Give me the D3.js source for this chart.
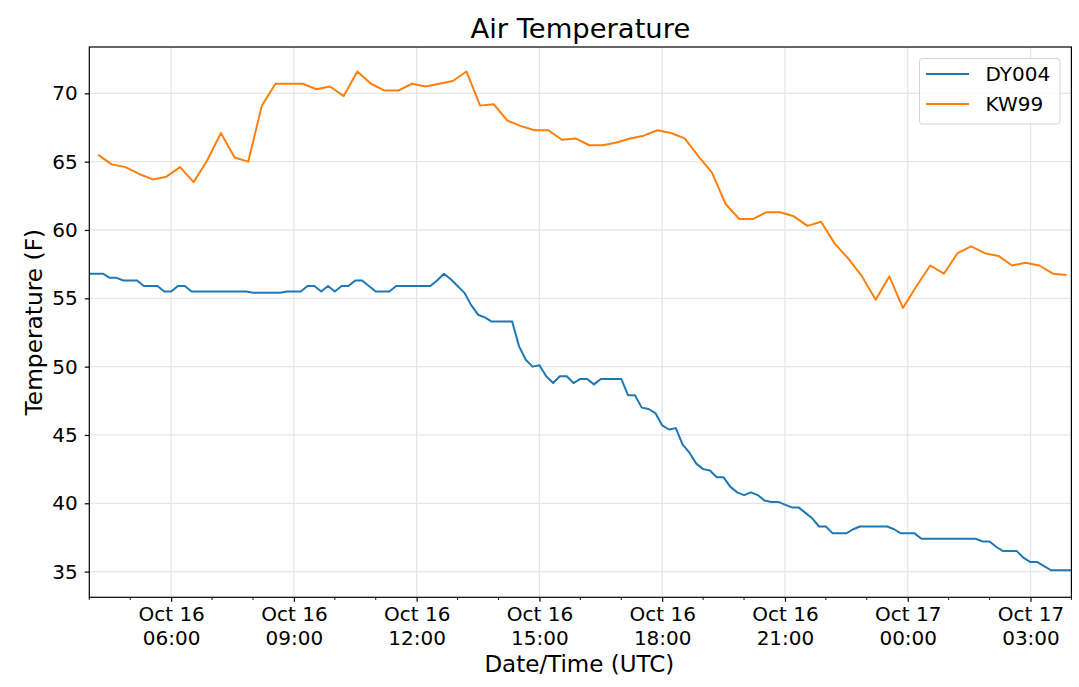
<!DOCTYPE html>
<html>
<head>
<meta charset="utf-8">
<script src="https://cdn.jsdelivr.net/npm/d3@7"></script>
<style>
  body { margin: 0; background: #fff; }
  text { font-family: "DejaVu Sans", sans-serif; fill: #000; }
</style>
</head>
<body>
<div id="chart"></div>
<script>
// station series
var seriesNames = ["DY004", "KW99"];
var seriesColors = ["#1f77b4", "#ff7f0e"];

// DY004: every 10 minutes from Oct 16 04:00 UTC
var dyStart = "2019-10-16T04:00:00Z";
var dyStepMin = 10;
var dyTemps = [
  56.8, 56.8, 56.8, 56.5, 56.5, 56.3, 56.3, 56.3, 55.9, 55.9,
  55.9, 55.5, 55.5, 55.9, 55.9, 55.5, 55.5, 55.5, 55.5, 55.5,
  55.5, 55.5, 55.5, 55.5, 55.4, 55.4, 55.4, 55.4, 55.4, 55.5,
  55.5, 55.5, 55.9, 55.9, 55.5, 55.9, 55.5, 55.9, 55.9, 56.3,
  56.3, 55.9, 55.5, 55.5, 55.5, 55.9, 55.9, 55.9, 55.9, 55.9,
  55.9, 56.3, 56.8, 56.4, 55.9, 55.4, 54.5, 53.8, 53.6, 53.3,
  53.3, 53.3, 53.3, 51.5, 50.5, 50.0, 50.1, 49.3, 48.8, 49.3,
  49.3, 48.8, 49.1, 49.1, 48.7, 49.1, 49.1, 49.1, 49.1, 47.9,
  47.9, 47.0, 46.9, 46.6, 45.7, 45.4, 45.5, 44.3, 43.7, 42.9,
  42.5, 42.4, 41.9, 41.9, 41.2, 40.8, 40.6, 40.8, 40.6, 40.2,
  40.1, 40.1, 39.9, 39.7, 39.7, 39.3, 38.9, 38.3, 38.3, 37.8,
  37.8, 37.8, 38.1, 38.3, 38.3, 38.3, 38.3, 38.3, 38.1, 37.8,
  37.8, 37.8, 37.4, 37.4, 37.4, 37.4, 37.4, 37.4, 37.4, 37.4,
  37.4, 37.2, 37.2, 36.8, 36.5, 36.5, 36.5, 36.0, 35.7, 35.7,
  35.4, 35.1, 35.1, 35.1, 35.1
];

// KW99: every 20 minutes from Oct 16 04:13 UTC
var kwStart = "2019-10-16T04:13:00Z";
var kwStepMin = 20;
var kwTemps = [
  65.5, 64.8, 64.6, 64.1, 63.7, 63.9, 64.6, 63.5, 65.1, 67.1,
  65.3, 65.0, 69.1, 70.7, 70.7, 70.7, 70.3, 70.5, 69.8, 71.6,
  70.7, 70.2, 70.2, 70.7, 70.5, 70.7, 70.9, 71.6, 69.1, 69.2,
  68.0, 67.6, 67.3, 67.3, 66.6, 66.7, 66.2, 66.2, 66.4, 66.7,
  66.9, 67.3, 67.1, 66.7, 65.4, 64.2, 61.9, 60.8, 60.8, 61.3,
  61.3, 61.0, 60.3, 60.6, 59.0, 57.9, 56.6, 54.9, 56.6, 54.3,
  55.9, 57.4, 56.8, 58.3, 58.8, 58.3, 58.1, 57.4, 57.6, 57.4,
  56.8, 56.7
];

var xStart = "2019-10-16T04:00:00Z";
var xEnd = "2019-10-17T04:00:00Z";
var yTicks = [35, 40, 45, 50, 55, 60, 65, 70];
var yDomain = [33.12, 73.39];

var W = 1079, H = 687;
var margin = {top: 47, right: 7.6, bottom: 89.7, left: 89.3};
var w = W - margin.left - margin.right,
    h = H - margin.top - margin.bottom;

function toPoints(start, step, temps) {
  var t0 = new Date(start);
  return temps.map(function(v, i) {
    return {t: d3.utcMinute.offset(t0, i * step), v: v};
  });
}

var series = [
  {name: seriesNames[0], color: seriesColors[0], pts: toPoints(dyStart, dyStepMin, dyTemps)},
  {name: seriesNames[1], color: seriesColors[1], pts: toPoints(kwStart, kwStepMin, kwTemps)}
];

var svg = d3.select("#chart").append("svg")
    .attr("width", W)
    .attr("height", H);

var g = svg.append("g")
    .attr("transform", "translate(" + margin.left + "," + margin.top + ")");

var x = d3.scaleUtc()
    .domain([new Date(xStart), new Date(xEnd)])
    .range([0, w]);

var y = d3.scaleLinear()
    .domain(yDomain)
    .range([h, 0]);

var majorTicks = x.ticks(d3.utcHour.every(3));
var minorTicks = x.ticks(d3.utcHour.every(1)).filter(function(d) {
  return d.getUTCHours() % 3 !== 0;
});

// grid
g.append("g").selectAll("line").data(majorTicks).join("line")
    .attr("x1", function(d) { return x(d); })
    .attr("x2", function(d) { return x(d); })
    .attr("y1", 0).attr("y2", h)
    .attr("stroke", "#e6e6e6").attr("stroke-width", 1.3);

g.append("g").selectAll("line").data(yTicks).join("line")
    .attr("x1", 0).attr("x2", w)
    .attr("y1", function(d) { return y(d); })
    .attr("y2", function(d) { return y(d); })
    .attr("stroke", "#e6e6e6").attr("stroke-width", 1.3);

// lines
var line = d3.line()
    .x(function(d) { return x(d.t); })
    .y(function(d) { return y(d.v); });

g.append("g").selectAll("path").data(series).join("path")
    .attr("d", function(d) { return line(d.pts); })
    .attr("fill", "none")
    .attr("stroke", function(d) { return d.color; })
    .attr("stroke-width", 2)
    .attr("stroke-linejoin", "round");

// x axis
var xAxis = g.append("g")
    .attr("transform", "translate(0," + h + ")")
    .call(d3.axisBottom(x).tickValues(majorTicks).tickSize(4.5).tickPadding(6).tickFormat(""));

xAxis.select(".domain").remove();
xAxis.selectAll(".tick line").attr("stroke", "#000").attr("stroke-width", 1.2);

xAxis.selectAll(".tick").each(function(d) {
  var t = d3.select(this).append("text")
      .attr("text-anchor", "middle")
      .style("font-size", "20px");
  t.append("tspan").attr("x", 0).attr("y", 24).text(d3.utcFormat("%b %d")(d));
  t.append("tspan").attr("x", 0).attr("y", 48).text(d3.utcFormat("%H:%M")(d));
});

g.append("g").selectAll("line").data(minorTicks).join("line")
    .attr("x1", function(d) { return x(d); })
    .attr("x2", function(d) { return x(d); })
    .attr("y1", h).attr("y2", h + 2.6)
    .attr("stroke", "#000").attr("stroke-width", 1);

// y axis
var yAxis = g.append("g")
    .call(d3.axisLeft(y).tickValues(yTicks).tickSize(4.5).tickPadding(7));

yAxis.select(".domain").remove();
yAxis.selectAll(".tick line").attr("stroke", "#000").attr("stroke-width", 1.2);
yAxis.selectAll(".tick text").style("font-size", "20px").attr("fill", "#000");

// frame
g.append("rect")
    .attr("width", w).attr("height", h)
    .attr("fill", "none")
    .attr("stroke", "#000")
    .attr("stroke-width", 1.2);

// titles
svg.append("text")
    .attr("x", margin.left + w / 2)
    .attr("y", 37.5)
    .attr("text-anchor", "middle")
    .style("font-size", "27.4px")
    .text("Air Temperature");

svg.append("text")
    .attr("x", margin.left + w / 2 - 1)
    .attr("y", 672)
    .attr("text-anchor", "middle")
    .style("font-size", "23px")
    .text("Date/Time (UTC)");

svg.append("text")
    .attr("transform", "translate(42," + (margin.top + h / 2) + ") rotate(-90)")
    .attr("text-anchor", "middle")
    .style("font-size", "23.3px")
    .text("Temperature (F)");

// legend
var lg = svg.append("g").attr("transform", "translate(919.5,58.5)");

lg.append("rect")
    .attr("width", 140.5).attr("height", 65.5)
    .attr("rx", 3)
    .attr("fill", "#fff").attr("fill-opacity", 0.8)
    .attr("stroke", "#d5d5d5").attr("stroke-width", 1);

var items = lg.selectAll("g.item").data(series).join("g")
    .attr("class", "item")
    .attr("transform", function(d, i) { return "translate(0," + (15.5 + i * 30) + ")"; });

items.append("line")
    .attr("x1", 6.5).attr("x2", 49.5)
    .attr("stroke", function(d) { return d.color; })
    .attr("stroke-width", 2);

items.append("text")
    .attr("x", 66)
    .attr("y", 7.2)
    .style("font-size", "20px")
    .text(function(d) { return d.name; });
</script>
</body>
</html>
